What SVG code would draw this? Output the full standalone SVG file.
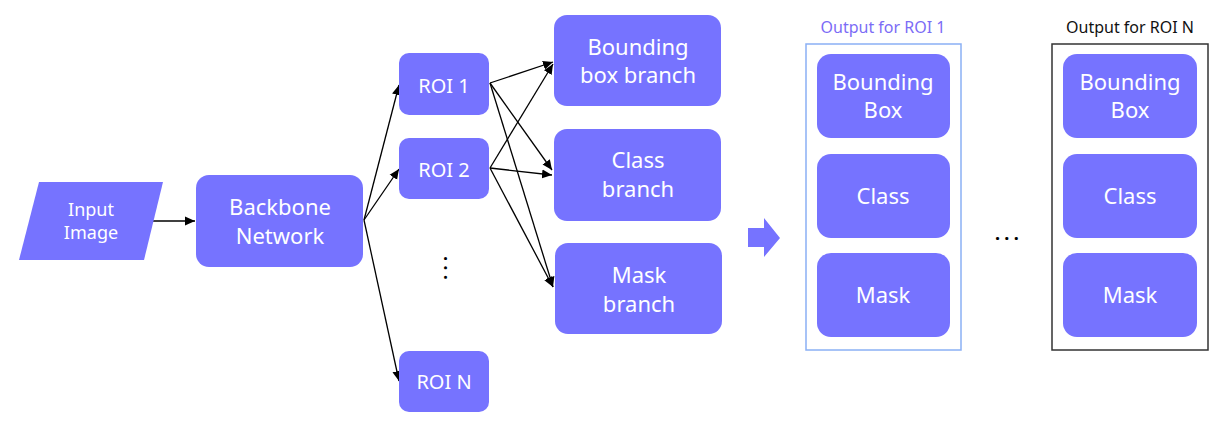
<svg xmlns="http://www.w3.org/2000/svg" width="1231" height="445" viewBox="0 0 1231 445">
<defs>
<marker id="ah" viewBox="0 0 10 10" refX="10" refY="5" markerWidth="10" markerHeight="10" markerUnits="userSpaceOnUse" orient="auto">
<path d="M0,0.5 L10,5 L0,9.5 Z" fill="#000"/>
</marker>
<style>
.n{fill:#7673FF;}
.t{fill:#fff;font-family:"Noto Sans","Liberation Sans",sans-serif;text-anchor:middle;}
.c{stroke:#000;stroke-width:1.3;fill:none;marker-end:url(#ah);}
.lbl{font-family:"Noto Sans","Liberation Sans",sans-serif;font-size:16px;text-anchor:middle;}
.dots{font-family:"Noto Sans","Liberation Sans",sans-serif;font-weight:bold;font-size:18px;fill:#000;letter-spacing:4.3px;}
</style>
</defs>
<rect width="1231" height="445" fill="#fff"/>

<g id="connectors">
<line class="c" x1="153" y1="221" x2="195" y2="221"/>
<line class="c" x1="364" y1="220" x2="399" y2="85"/>
<line class="c" x1="364" y1="220" x2="399" y2="169"/>
<line class="c" x1="364" y1="220" x2="399" y2="381"/>
<line class="c" x1="490" y1="83" x2="553" y2="62"/>
<line class="c" x1="490" y1="83" x2="552" y2="170"/>
<line class="c" x1="490" y1="83" x2="553" y2="287"/>
<line class="c" x1="490" y1="168" x2="553" y2="64"/>
<line class="c" x1="490" y1="168" x2="552" y2="175"/>
<line class="c" x1="490" y1="168" x2="553" y2="287"/>
</g>

<g id="input">
<polygon class="n" points="39,182 163,182 144,260 19,260"/>
<text class="t" font-size="18" x="91" y="216">Input</text>
<text class="t" font-size="18" x="91" y="239">Image</text>
</g>

<g id="backbone">
<rect class="n" x="196" y="175" width="167" height="92" rx="13"/>
<text class="t" font-size="22" x="280" y="215">Backbone</text>
<text class="t" font-size="22" x="280" y="244">Network</text>
</g>

<g id="roi1">
<rect class="n" x="399" y="53" width="90" height="62" rx="10"/>
<text class="t" font-size="20" x="444" y="93">ROI 1</text>
</g>
<g id="roi2">
<rect class="n" x="399" y="138" width="90" height="61" rx="10"/>
<text class="t" font-size="20" x="444" y="177">ROI 2</text>
</g>
<g id="roiN">
<rect class="n" x="399" y="351" width="90" height="61" rx="10"/>
<text class="t" font-size="20" x="444" y="389">ROI N</text>
</g>
<g id="vdots">
<text class="dots" x="0" y="0" transform="translate(445,268) rotate(90)" dx="-12" dy="1.5">...</text>
</g>

<g id="bbox-branch">
<rect class="n" x="554" y="15" width="167" height="91" rx="13"/>
<text class="t" font-size="22" x="638" y="55">Bounding</text>
<text class="t" font-size="22" x="638" y="83">box branch</text>
</g>
<g id="class-branch">
<rect class="n" x="554" y="129" width="167" height="92" rx="13"/>
<text class="t" font-size="22" x="638" y="168">Class</text>
<text class="t" font-size="22" x="638" y="197">branch</text>
</g>
<g id="mask-branch">
<rect class="n" x="555" y="243" width="167" height="91" rx="13"/>
<text class="t" font-size="22" x="639" y="283">Mask</text>
<text class="t" font-size="22" x="639" y="312">branch</text>
</g>

<g id="big-arrow">
<polygon class="n" points="748,228 764,228 764,218 780,238 764,257 764,247 748,247"/>
</g>

<g id="output1">
<text class="lbl" x="883" y="33" fill="#7B6CF6">Output for ROI 1</text>
<rect x="806" y="44" width="155" height="306" fill="none" stroke="#8AB0F5" stroke-width="1.5"/>
<rect class="n" x="817" y="54" width="133" height="84" rx="14"/>
<text class="t" font-size="22" x="883" y="90">Bounding</text>
<text class="t" font-size="22" x="883" y="118">Box</text>
<rect class="n" x="817" y="154" width="133" height="84" rx="14"/>
<text class="t" font-size="22" x="883" y="204">Class</text>
<rect class="n" x="817" y="253" width="133" height="84" rx="14"/>
<text class="t" font-size="22" x="883" y="303">Mask</text>
</g>

<g id="hdots">
<text class="dots" x="995" y="240">...</text>
</g>

<g id="outputN">
<text class="lbl" x="1130" y="33" fill="#111">Output for ROI N</text>
<rect x="1052" y="44" width="156" height="306" fill="none" stroke="#333" stroke-width="1.5"/>
<rect class="n" x="1063" y="54" width="134" height="84" rx="14"/>
<text class="t" font-size="22" x="1130" y="90">Bounding</text>
<text class="t" font-size="22" x="1130" y="118">Box</text>
<rect class="n" x="1063" y="154" width="134" height="84" rx="14"/>
<text class="t" font-size="22" x="1130" y="204">Class</text>
<rect class="n" x="1063" y="253" width="134" height="84" rx="14"/>
<text class="t" font-size="22" x="1130" y="303">Mask</text>
</g>
</svg>
